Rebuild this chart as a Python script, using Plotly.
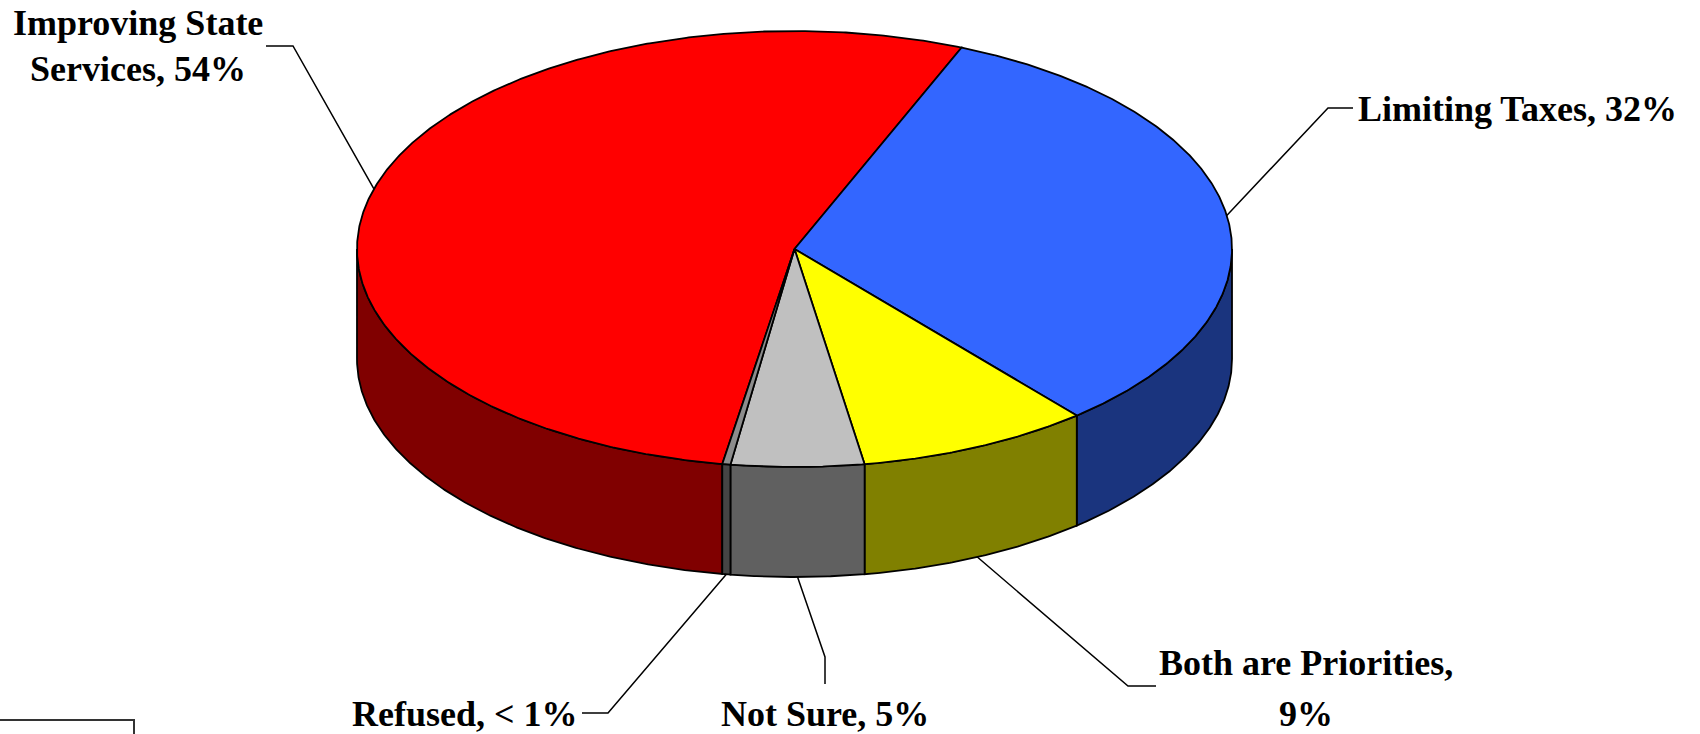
import numpy as np
import plotly.graph_objects as go

# ---------------- data ----------------
categories = ["Improving State Services", "Limiting Taxes", "Both are Priorities", "Not Sure", "Refused"]
values = [53.6, 32.6, 8.6, 4.9, 0.3]
label_lines = [
    ["Improving State", "Services, 54%"],
    ["Limiting Taxes, 32%"],
    ["Both are Priorities,", "9%"],
    ["Not Sure, 5%"],
    ["Refused, < 1%"],
]

# ---------------- style ----------------
top_colors = ["#FF0000", "#3366FF", "#FFFF00", "#C0C0C0", "#8C8C8C"]
side_colors = ["#800000", "#1A347E", "#808000", "#606060", "#454545"]
FONT = "Liberation Serif, Times New Roman, serif"
FSIZE = 36

# geometry in page pixels
W, H = 1700, 734
CX, CY, RX, RY, DEPTH = 794.5, 249.0, 437.5, 218.0, 110.0
START_DEG = 260.5  # first slice starts here, slices run clockwise

label_layout = [
    dict(path=[(293, 46), (266, 46)], x=138, ys=[23, 69], xanchor="center"),
    dict(path=[(1328, 108), (1353, 108)], x=1356, ys=[109], xanchor="left"),
    dict(path=[(1128, 686), (1156, 686)], x=1306, ys=[663, 714], xanchor="center"),
    dict(path=[(825, 657), (825, 684)], x=825, ys=[714], xanchor="center"),
    dict(path=[(608, 713), (582, 713)], x=580, ys=[714], xanchor="right"),
]


def rim(t_deg, dy=0.0):
    t = np.radians(t_deg)
    return CX + RX * np.cos(t), CY - RY * np.sin(t) + dy


total = float(sum(values))
angles = []
a = START_DEG
for v in values:
    span = v / total * 360.0
    angles.append((a, a - span))
    a -= span

fig = go.Figure()

# side walls (front half of the cylinder: sin(t) < 0)
for (a0, a1), col in zip(angles, side_colors):
    for k in range(-2, 3):
        lo = max(a1, 180 + 360 * k)
        hi = min(a0, 360 + 360 * k)
        if hi - lo <= 1e-9:
            continue
        n = max(4, int((hi - lo) * 3))
        ts = np.linspace(lo, hi, n)
        xt, yt = rim(ts)
        xb, yb = rim(ts[::-1], DEPTH)
        xs = np.concatenate([xt, xb, xt[:1]])
        ys = np.concatenate([yt, yb, yt[:1]])
        fig.add_trace(go.Scatter(x=xs, y=ys, mode="lines", fill="toself",
                                 fillcolor=col, line=dict(color="black", width=1.8),
                                 hoverinfo="skip"))

# top faces
for (a0, a1), col in zip(angles, top_colors):
    n = max(4, int((a0 - a1) * 3))
    ts = np.linspace(a0, a1, n)
    xa, ya = rim(ts)
    xs = np.concatenate([[CX], xa, [CX]])
    ys = np.concatenate([[CY], ya, [CY]])
    fig.add_trace(go.Scatter(x=xs, y=ys, mode="lines", fill="toself",
                             fillcolor=col, line=dict(color="black", width=1.8),
                             hoverinfo="skip"))

# leader lines and labels
annotations = []
for (a0, a1), lines, lay in zip(angles, label_lines, label_layout):
    mid = (a0 + a1) / 2.0
    if np.sin(np.radians(mid)) >= 0:
        ax, ay = rim(mid)
    else:
        ax, ay = rim(mid, DEPTH)
    px = [ax] + [p[0] for p in lay["path"]]
    py = [ay] + [p[1] for p in lay["path"]]
    fig.add_trace(go.Scatter(x=px, y=py, mode="lines",
                             line=dict(color="black", width=1.5), hoverinfo="skip"))
    for txt, yy in zip(lines, lay["ys"]):
        annotations.append(dict(x=lay["x"], y=yy, xref="x", yref="y", text="<b>%s</b>" % txt,
                                showarrow=False, xanchor=lay["xanchor"], yanchor="middle",
                                font=dict(family=FONT, size=FSIZE, color="black")))

fig.update_layout(
    width=W, height=H, margin=dict(l=0, r=0, t=0, b=0),
    paper_bgcolor="white", plot_bgcolor="white", showlegend=False,
    xaxis=dict(range=[0, W], visible=False, fixedrange=True),
    yaxis=dict(range=[H, 0], visible=False, fixedrange=True),
    annotations=annotations,
    shapes=[dict(type="path", xref="x", yref="y", path="M 0,720 L 134,720 L 134,734",
                 line=dict(color="#333333", width=2))],
)

fig.write_html("out.html", config={"displayModeBar": False},
               post_script="document.body.style.margin='0';document.body.style.overflow='hidden';")
